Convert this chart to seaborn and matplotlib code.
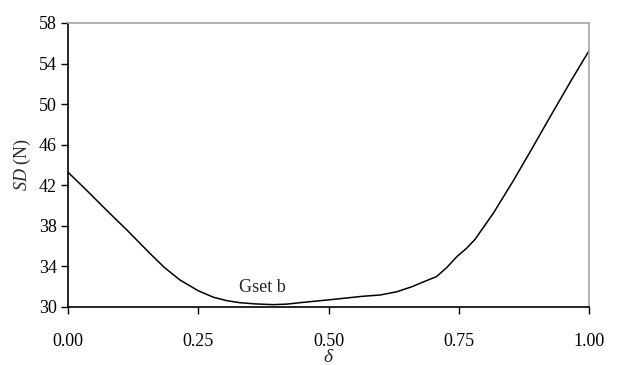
import matplotlib
matplotlib.use("Agg")
import matplotlib.pyplot as plt
import seaborn as sns
import pandas as pd

delta = [0.0, 0.018, 0.036, 0.075, 0.113, 0.157, 0.185, 0.215, 0.25, 0.279, 0.305, 0.33, 0.36, 0.394, 0.42, 0.445, 0.47, 0.50, 0.528, 0.565, 0.599, 0.631, 0.66, 0.688, 0.707, 0.727, 0.746, 0.765, 0.781, 0.816, 0.855, 0.89, 0.927, 0.965, 1.0]
sd = [43.3, 42.4, 41.5, 39.5, 37.6, 35.3, 33.9, 32.66, 31.6, 30.96, 30.62, 30.42, 30.3, 30.23, 30.28, 30.42, 30.55, 30.7, 30.85, 31.05, 31.18, 31.5, 32.0, 32.6, 32.99, 33.9, 34.96, 35.8, 36.67, 39.24, 42.5, 45.6, 48.93, 52.3, 55.3]
xticks = [0.0, 0.25, 0.5, 0.75, 1.0]
xtick_labels = ["0.00", "0.25", "0.50", "0.75", "1.00"]
yticks = [30, 34, 38, 42, 46, 50, 54, 58]

sns.set_style("ticks")
plt.rcParams["font.family"] = ["Liberation Serif", "DejaVu Serif"]
plt.rcParams["mathtext.fontset"] = "custom"
plt.rcParams["mathtext.it"] = "Liberation Serif:italic"
plt.rcParams["mathtext.rm"] = "Liberation Serif"

df = pd.DataFrame({"delta": delta, "sd": sd})

fig = plt.figure(figsize=(6.17, 3.65), dpi=100)
ax = fig.add_axes([0.110, 0.159, 0.845, 0.778])
sns.lineplot(data=df, x="delta", y="sd", ax=ax, color="black", linewidth=1.1)

ax.set_xlim(0, 1)
ax.set_ylim(30, 58)
ax.set_xticks(xticks)
ax.set_xticklabels(xtick_labels)
ax.set_yticks(yticks)
ax.tick_params(axis="both", direction="out", length=5, width=1, colors="black", labelsize=13)
ax.tick_params(axis="x", pad=14)
ax.tick_params(axis="y", pad=3)

for s in ["left", "bottom"]:
    ax.spines[s].set_color("black")
    ax.spines[s].set_linewidth(1.2)
for s in ["top", "right"]:
    ax.spines[s].set_visible(True)
    ax.spines[s].set_color("#a6a6a6")
    ax.spines[s].set_linewidth(1.2)

ax.set_xlabel(r"$\delta$", fontsize=14, labelpad=-1)
ax.set_ylabel(r"$SD$ (N)", fontsize=13, labelpad=4)
ax.text(0.373, 31.95, "Gset b", fontsize=13, ha="center", va="center")

fig.savefig("out.png", dpi=100)
